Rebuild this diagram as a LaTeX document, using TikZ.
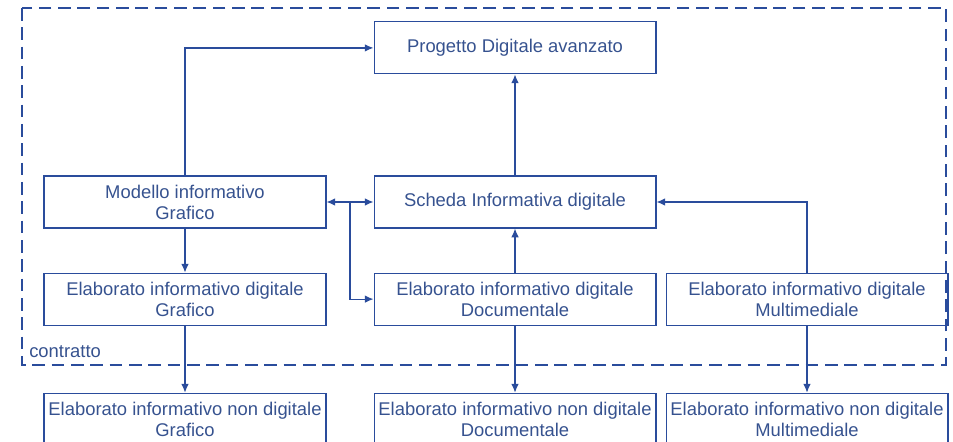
\documentclass[tikz,border=0pt]{standalone}
\usepackage{fontspec}
\setmainfont{Liberation Sans}
\usepackage{xcolor}
\usepackage{tikz}
\usetikzlibrary{positioning, arrows.meta, calc}
\definecolor{lineBlue}{HTML}{2A4C9C}
\definecolor{textBlue}{HTML}{36528F}

\begin{document}
\begin{tikzpicture}[
        every node/.style={font=\fontsize{13.8}{15.75}\selectfont\color{textBlue}},
        infobox/.style={rectangle, draw=lineBlue, line width=0.85pt,
                        minimum width=74.3mm, minimum height=13.7mm,
                        inner sep=0pt, align=center},
        arr/.style={-{Latex[length=2.3mm, width=2mm]}, lineBlue, line width=0.9pt},
        dblarr/.style={{Latex[length=2.3mm, width=2mm]}-{Latex[length=2.3mm, width=2mm]},
                       lineBlue, line width=0.9pt},
        frame/.style={draw=lineBlue, line width=1.4pt, dash pattern=on 9.5pt off 5pt},
      ]
        \useasboundingbox (0,0) rectangle (714.75pt,-331.5pt);

        % Inside the contract
        \node[infobox] (modello) at (138.75pt,-151.5pt) {Modello informativo\\Grafico};
        \node[infobox, right=12.39mm of modello] (scheda) {Scheda Informativa digitale};
        \node[infobox, above=26.62mm of scheda] (progetto) {Progetto Digitale avanzato};
        \node[infobox, below=11.6mm of modello] (eGraf) {Elaborato informativo digitale\\Grafico};
        \node[infobox, below=11.6mm of scheda] (eDoc) {Elaborato informativo digitale\\Documentale};
        \node[infobox, right=2.37mm of eDoc] (eMult) {Elaborato informativo digitale\\Multimediale};

        % Outside the contract
        \node[infobox, below=17.66mm of eGraf] (nGraf) {Elaborato informativo non digitale\\Grafico};
        \node[infobox, below=17.66mm of eDoc] (nDoc) {Elaborato informativo non digitale\\Documentale};
        \node[infobox, below=17.66mm of eMult] (nMult) {Elaborato informativo non digitale\\Multimediale};

        % Contract boundary
        \draw[frame] (16.5pt,-6pt) rectangle (709.5pt,-273.75pt);
        \node[anchor=west, inner sep=0pt] (contratto) at (21.75pt,-264pt) {contratto};

        \coordinate (jn) at ($(modello.east)!0.5!(scheda.west)$);

        \draw[arr] (modello.north) |- (progetto.west);
        \draw[arr] (scheda.north) -- (progetto.south);
        \draw[dblarr] (modello.east) -- (scheda.west);
        \draw[arr] (jn) |- (eDoc.west);
        \draw[arr] (eDoc.north) -- (scheda.south);
        \draw[arr] (eMult.north) |- (scheda.east);
        \draw[arr] (modello.south) -- (eGraf.north);
        \draw[arr] (eGraf.south) -- (nGraf.north);
        \draw[arr] (eDoc.south) -- (nDoc.north);
        \draw[arr] (eMult.south) -- (nMult.north);
      \end{tikzpicture}
\end{document}
